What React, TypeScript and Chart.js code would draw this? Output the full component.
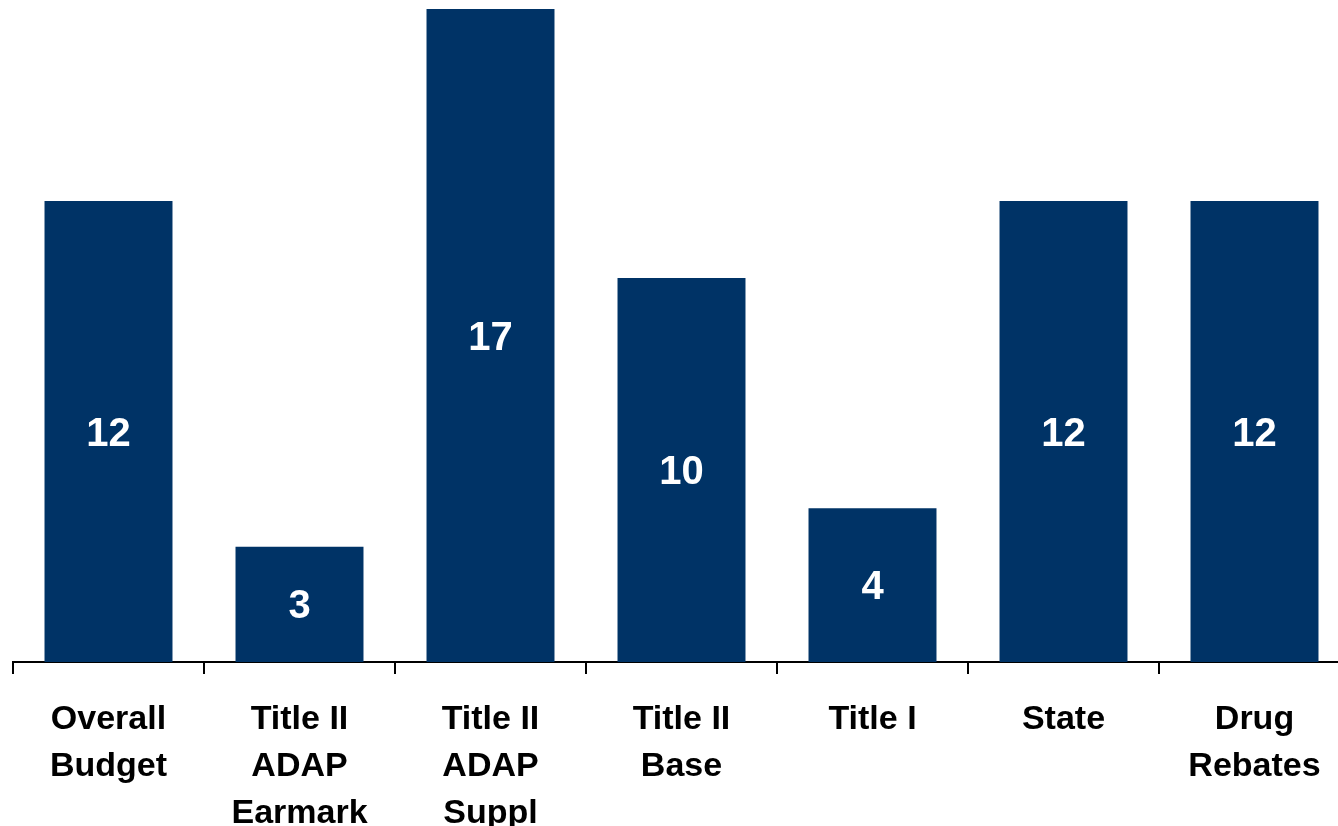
import React, { useEffect, useRef } from "react";
import { Chart, registerables } from "chart.js";

Chart.register(...registerables);

const categories: string[][] = [
  ["Overall", "Budget"],
  ["Title II", "ADAP", "Earmark"],
  ["Title II", "ADAP", "Suppl"],
  ["Title II", "Base"],
  ["Title I"],
  ["State"],
  ["Drug", "Rebates"],
];
const values: number[] = [12, 3, 17, 10, 4, 12, 12];
const barColor = "#003366";
const FONT = "'Liberation Sans', Arial, sans-serif";

const valueLabelPlugin = {
  id: "valueLabels",
  afterDatasetsDraw(chart: any) {
    const ctx = chart.ctx;
    const meta = chart.getDatasetMeta(0);
    ctx.save();
    ctx.fillStyle = "#ffffff";
    ctx.font = `bold 40px ${FONT}`;
    ctx.textAlign = "center";
    ctx.textBaseline = "middle";
    meta.data.forEach((el: any, i: number) => {
      const { x, y, base } = el.getProps(["x", "y", "base"], true);
      ctx.fillText(String(values[i]), x, (y + base) / 2 + 3);
    });
    ctx.restore();
  },
};

export default function App() {
  const ref = useRef<HTMLCanvasElement>(null);
  useEffect(() => {
    if (!ref.current) return;
    const chart = new Chart(ref.current, {
      type: "bar",
      data: {
        labels: categories,
        datasets: [
          {
            data: values,
            backgroundColor: barColor,
            borderWidth: 0,
            categoryPercentage: 1,
            barPercentage: 0.67,
          },
        ],
      },
      options: {
        animation: false,
        responsive: false,
        maintainAspectRatio: false,
        layout: { padding: { left: 13, right: 10, top: 9, bottom: 0 } },
        plugins: { legend: { display: false }, tooltip: { enabled: false } },
        scales: {
          y: { display: false, min: 0, max: 17 },
          x: {
            offset: true,
            afterFit: (scale: any) => {
              scale.height = 164;
            },
            grid: {
              offset: true,
              drawOnChartArea: false,
              drawTicks: true,
              tickLength: 12,
              color: "#000000",
              lineWidth: 2,
            },
            border: { display: true, color: "#000000", width: 2 },
            ticks: {
              color: "#000000",
              padding: 22,
              maxRotation: 0,
              autoSkip: false,
              font: { family: FONT, size: 34, weight: "bold", lineHeight: 1.38 },
            },
          },
        },
      },
      plugins: [valueLabelPlugin],
    });
    return () => chart.destroy();
  }, []);
  return (
    <div
      style={{
        position: "absolute",
        left: 0,
        top: 0,
        width: 1338,
        height: 826,
        overflow: "hidden",
        background: "#ffffff",
      }}
    >
      <canvas ref={ref} width={1360} height={826} style={{ display: "block" }} />
    </div>
  );
}
